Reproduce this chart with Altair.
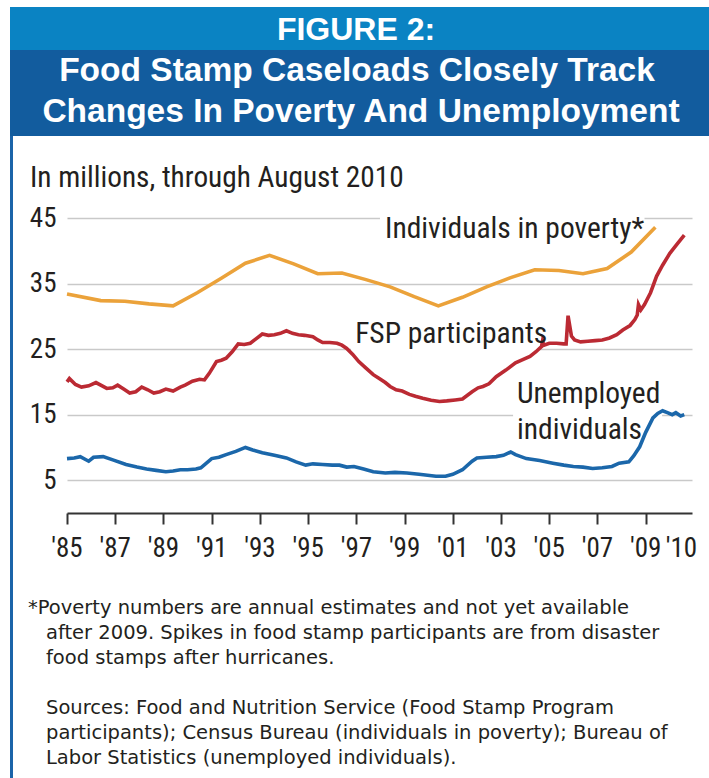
import altair as alt
import pandas as pd

# ---------------- data ----------------
pov_year = [1985.0, 1986.4, 1987.4, 1988.4, 1989.4, 1990.4, 1991.4, 1992.4, 1993.4,
            1994.4, 1995.4, 1996.4, 1997.4, 1998.4, 1999.4, 2000.4, 2001.4, 2002.4,
            2003.4, 2004.4, 2005.4, 2006.4, 2007.4, 2008.4, 2009.4]
pov_val = [33.4, 32.4, 32.3, 31.9, 31.6, 33.6, 35.8, 38.1, 39.3,
           38.0, 36.5, 36.6, 35.6, 34.5, 33.0, 31.6, 32.9, 34.5,
           35.9, 37.1, 37.0, 36.5, 37.3, 39.8, 43.6]

fsp_year = [1985.0, 1985.1, 1985.35, 1985.6, 1985.9, 1986.2, 1986.4, 1986.65, 1986.9,
            1987.1, 1987.35, 1987.6, 1987.85, 1988.1, 1988.35, 1988.6, 1988.85, 1989.1,
            1989.4, 1989.7, 1989.9, 1990.2, 1990.5, 1990.7, 1990.9, 1991.2, 1991.4,
            1991.6, 1991.85, 1992.1, 1992.35, 1992.6, 1992.85, 1993.1, 1993.35, 1993.6,
            1993.85, 1994.1, 1994.35, 1994.6, 1994.85, 1995.2, 1995.4, 1995.6, 1995.9,
            1996.2, 1996.4, 1996.6, 1996.85, 1997.1, 1997.4, 1997.7, 1997.95, 1998.2,
            1998.4, 1998.65, 1998.9, 1999.2, 1999.45, 1999.75, 2000.1, 2000.45, 2000.75,
            2001.1, 2001.4, 2001.8, 2002.05, 2002.25, 2002.5, 2002.8, 2003.2, 2003.6,
            2003.9, 2004.2, 2004.45, 2004.68, 2004.72, 2004.78, 2005.0, 2005.3, 2005.6,
            2005.7, 2005.78, 2005.92, 2006.05, 2006.3, 2006.6, 2006.9, 2007.2, 2007.5,
            2007.8, 2008.05, 2008.35, 2008.55, 2008.65, 2008.7, 2008.8, 2008.95, 2009.2,
            2009.45, 2009.7, 2010.0, 2010.3, 2010.6]
fsp_val = [20.0, 20.5, 19.6, 19.2, 19.4, 19.9, 19.5, 19.0, 19.1,
           19.5, 18.9, 18.3, 18.5, 19.2, 18.8, 18.3, 18.5, 18.9,
           18.6, 19.2, 19.5, 20.1, 20.4, 20.3, 21.3, 23.1, 23.3,
           23.6, 24.6, 25.8, 25.7, 25.9, 26.6, 27.3, 27.1, 27.2,
           27.4, 27.8, 27.4, 27.2, 27.1, 26.9, 26.4, 26.0, 26.0,
           25.9, 25.6, 25.1, 24.2, 23.1, 22.1, 21.1, 20.5, 19.9,
           19.3, 18.8, 18.6, 18.1, 17.8, 17.5, 17.2, 17.0, 17.1,
           17.25, 17.4, 18.5, 19.1, 19.3, 19.7, 20.8, 21.8, 22.9,
           23.4, 23.9, 24.6, 25.4, 26.2, 25.6, 25.9, 25.9, 25.8,
           25.8, 30.1, 27.0, 26.4, 26.1, 26.2, 26.3, 26.4, 26.7,
           27.2, 27.9, 28.6, 29.5, 30.2, 31.8, 31.0, 31.8, 33.6,
           36.1, 37.8, 39.6, 41.0, 42.4]

unemp_year = [1985.0, 1985.3, 1985.55, 1985.9, 1986.1, 1986.5, 1986.9, 1987.45, 1987.9,
              1988.3, 1988.7, 1989.1, 1989.4, 1989.7, 1990.0, 1990.35, 1990.55, 1991.0,
              1991.3, 1991.6, 1992.0, 1992.4, 1992.7, 1993.1, 1993.6, 1994.1, 1994.5,
              1994.9, 1995.2, 1995.6, 1996.0, 1996.3, 1996.6, 1996.9, 1997.3, 1997.7,
              1998.2, 1998.6, 1999.1, 1999.6, 2000.3, 2000.7, 2001.0, 2001.4, 2001.8,
              2002.0, 2002.4, 2002.8, 2003.1, 2003.4, 2003.6, 2004.05, 2004.6, 2005.15,
              2005.6, 2006.0, 2006.4, 2006.8, 2007.2, 2007.6, 2007.9, 2008.3, 2008.5,
              2008.75, 2009.0, 2009.3, 2009.5, 2009.7, 2009.9, 2010.1, 2010.25, 2010.45,
              2010.6]
unemp_val = [8.3, 8.4, 8.6, 7.9, 8.5, 8.6, 8.1, 7.4, 7.0,
             6.7, 6.5, 6.3, 6.4, 6.6, 6.6, 6.7, 6.9, 8.3,
             8.5, 8.9, 9.4, 10.0, 9.6, 9.2, 8.8, 8.4, 7.8,
             7.3, 7.5, 7.4, 7.3, 7.3, 7.0, 7.1, 6.7, 6.3,
             6.1, 6.2, 6.1, 5.9, 5.6, 5.6, 5.9, 6.6, 7.9,
             8.4, 8.5, 8.6, 8.8, 9.3, 8.9, 8.3, 8.0, 7.6,
             7.3, 7.1, 7.0, 6.8, 6.9, 7.1, 7.6, 7.8, 8.7,
             10.1, 12.3, 14.5, 15.2, 15.6, 15.3, 15.0, 15.3, 14.8,
             15.0]

series_names = ["Individuals in poverty", "FSP participants", "Unemployed individuals"]
series_colors = ["#eba23a", "#bb2a33", "#1b67aa"]

x_ticks = list(range(1985, 2011))
x_label_years = [1985, 1987, 1989, 1991, 1993, 1995, 1997, 1999, 2001, 2003, 2005, 2007, 2009]
x_label_text = ["'85", "'87", "'89", "'91", "'93", "'95", "'97", "'99", "'01", "'03", "'05", "'07", "'09"]
x_last_year = [2010]
x_last_text = ["'10"]
y_ticks = [5, 10, 15, 20, 25, 30, 35, 40, 45]

label_text = ["Individuals in poverty*", "FSP participants", "Unemployed", "individuals"]
label_x = [1998.19, 1996.95, 2003.66, 2003.66]
label_y = [41.95, 25.9, 16.73, 11.24]

box_x = [1997.98, 1996.78, 2003.50]
box_x2 = [2008.95, 2004.62, 2009.68]
box_y = [40.88, 24.56, 10.37]
box_y2 = [46.53, 30.66, 20.9]

title_top = "FIGURE 2:"
title_l1 = "Food Stamp Caseloads Closely Track"
title_l2 = "Changes In Poverty And Unemployment"
subtitle = "In millions, through August 2010"
note_first = "*Poverty numbers are annual estimates and not yet available"
note_rest = ["after 2009. Spikes in food stamp participants are from disaster",
             "food stamps after hurricanes."]
sources = ["Sources: Food and Nutrition Service (Food Stamp Program",
           "participants); Census Bureau (individuals in poverty); Bureau of",
           "Labor Statistics (unemployed individuals)."]

# ---------------- tables ----------------
lines_df = pd.concat([
    pd.DataFrame({"year": pov_year, "value": pov_val, "series": series_names[0]}),
    pd.DataFrame({"year": fsp_year, "value": fsp_val, "series": series_names[1]}),
    pd.DataFrame({"year": unemp_year, "value": unemp_val, "series": series_names[2]}),
], ignore_index=True)
labels_df = pd.DataFrame({"text": label_text, "x": label_x, "y": label_y})
boxes_df = pd.DataFrame({"x": box_x, "x2": box_x2, "y": box_y, "y2": box_y2})
xlab_df = pd.DataFrame({"year": x_label_years, "text": x_label_text})
xlast_df = pd.DataFrame({"year": x_last_year, "text": x_last_text})
one = pd.DataFrame({"k": [0]})

NARROW = "Liberation Sans Narrow, Roboto Condensed, DejaVu Sans Condensed, sans-serif"
SANS = "Liberation Sans, Arial, sans-serif"
NOTE = "DejaVu Sans, sans-serif"
INK = "#231f20"

W, H = 625, 295
PAD_L, PAD_T = 67, 218

x_scale = alt.Scale(domain=[1985, 2010.92], nice=False, zero=False)
y_scale = alt.Scale(domain=[0, 45], nice=False, zero=False)

x_axis = alt.Axis(
    values=x_ticks, grid=False, title=None, labels=False,
    domainColor="#333333", domainWidth=2, tickColor="#333333", tickWidth=2, tickSize=11,
)
y_axis = alt.Axis(
    values=y_ticks, grid=True, gridColor="#c9c9c9", gridWidth=1.6, domain=False, ticks=False,
    title=None, labelExpr="datum.value % 10 == 5 ? datum.label : ''",
    labelFont=NARROW, labelFontSize=27, labelColor=INK, labelPadding=11,
)

lines = alt.Chart(lines_df).mark_line(strokeWidth=3.6, clip=False).encode(
    x=alt.X("year:Q", scale=x_scale, axis=x_axis),
    y=alt.Y("value:Q", scale=y_scale, axis=y_axis),
    color=alt.Color("series:N", scale=alt.Scale(domain=series_names, range=series_colors), legend=None),
    detail="series:N",
)

boxes = alt.Chart(boxes_df).mark_rect(color="white").encode(
    x=alt.X("x:Q", scale=x_scale), x2="x2:Q",
    y=alt.Y("y:Q", scale=y_scale), y2="y2:Q",
)

labels = alt.Chart(labels_df).mark_text(
    font=NARROW, fontSize=29.5, color=INK, align="left", baseline="alphabetic"
).encode(
    x=alt.X("x:Q", scale=x_scale), y=alt.Y("y:Q", scale=y_scale), text="text:N",
)

xlabels = alt.Chart(xlab_df).mark_text(
    font=NARROW, fontSize=27, color=INK, align="center", baseline="alphabetic"
).encode(
    x=alt.X("year:Q", scale=x_scale), y=alt.value(H + 44), text="text:N",
)
xlast = alt.Chart(xlast_df).mark_text(
    font=NARROW, fontSize=27, color=INK, align="left", baseline="alphabetic", dx=-4
).encode(
    x=alt.X("year:Q", scale=x_scale), y=alt.value(H + 44), text="text:N",
)

# decorations (banner, border, subtitle, notes)
banner_light = alt.Chart(one).mark_rect(color="#0a83c3").encode(
    x=alt.value(10 - PAD_L), x2=alt.value(709 - PAD_L),
    y=alt.value(7 - PAD_T), y2=alt.value(50 - PAD_T))
banner_dark = alt.Chart(one).mark_rect(color="#125c9e").encode(
    x=alt.value(10 - PAD_L), x2=alt.value(709 - PAD_L),
    y=alt.value(50 - PAD_T), y2=alt.value(136 - PAD_T))
border = alt.Chart(one).mark_rect(color="#1b64a9").encode(
    x=alt.value(10 - PAD_L), x2=alt.value(13 - PAD_L),
    y=alt.value(136 - PAD_T), y2=alt.value(778 - PAD_T))

def txt(text, x, y, size, font, color=INK, weight="normal", align="left", line_height=None):
    kw = dict(text=text, font=font, fontSize=size, color=color, fontWeight=weight,
              align=align, baseline="alphabetic")
    if line_height is not None:
        kw["lineHeight"] = line_height
    return alt.Chart(one).mark_text(**kw).encode(x=alt.value(x - PAD_L), y=alt.value(y - PAD_T))

t0 = txt(title_top, 356, 40, 32, SANS, "white", "bold", "center")
t1 = txt(title_l1, 357, 81, 33.5, SANS, "white", "bold", "center")
t2 = txt(title_l2, 361, 122, 33.5, SANS, "white", "bold", "center")
sub = txt(subtitle, 30, 187, 29.3, NARROW)
n1 = txt(note_first, 28, 614, 19.5, NOTE)
n2 = txt(note_rest, 46, 639, 19.5, NOTE, line_height=25)
s1 = txt(sources, 46, 714, 19.5, NOTE, line_height=25)

chart = alt.layer(
    banner_light, banner_dark, border, boxes, lines, labels, xlabels, xlast,
    t0, t1, t2, sub, n1, n2, s1
).properties(
    width=W, height=H,
    autosize=alt.AutoSizeParams(type="none"),
    padding={"left": PAD_L, "top": PAD_T, "right": 709 - PAD_L - W, "bottom": 778 - PAD_T - H},
    background="white",
).configure_view(stroke=None)

chart.save("out.html", embed_options={"renderer": "svg", "actions": False})
